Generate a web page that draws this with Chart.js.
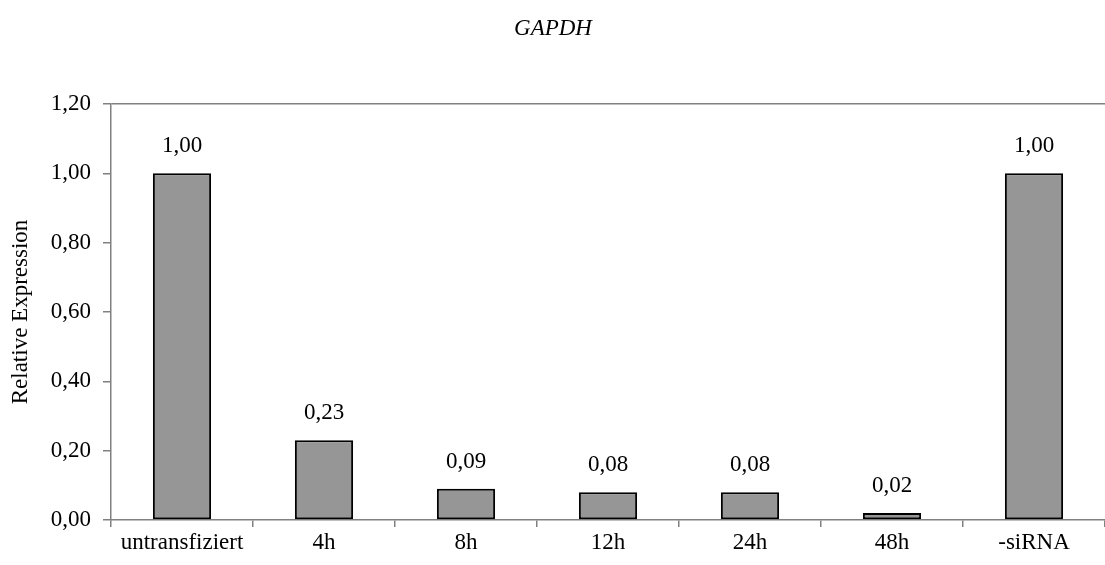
<!DOCTYPE html>
<html>
<head>
<meta charset="utf-8">
<script src="https://cdn.jsdelivr.net/npm/chart.js@4/dist/chart.umd.min.js"></script>
<style>
  html, body { margin: 0; padding: 0; background: #fff; }
  #wrap { width: 1105px; height: 565px; }
</style>
</head>
<body>
<div id="wrap"><canvas id="chart" width="1105" height="565"></canvas></div>
<script>
const categories = ["untransfiziert", "4h", "8h", "12h", "24h", "48h", "-siRNA"];
const expression = [1.00, 0.23, 0.09, 0.08, 0.08, 0.02, 1.00];
const yTicks = [0, 0.2, 0.4, 0.6, 0.8, 1.0, 1.2];

const serif = "'Liberation Serif', 'Times New Roman', serif";
const fmt = (v) => v.toFixed(2).replace(".", ",");

// value labels above the bars
const valueLabels = {
  id: "valueLabels",
  afterDatasetsDraw(chart) {
    const ctx = chart.ctx;
    const meta = chart.getDatasetMeta(0);
    ctx.save();
    ctx.font = "23px " + serif;
    ctx.fillStyle = "#000";
    ctx.textAlign = "center";
    ctx.textBaseline = "middle";
    meta.data.forEach((bar, i) => {
      ctx.fillText(fmt(expression[i]), bar.x, bar.y - 27);
    });
    ctx.restore();
  }
};

// italic title
const titlePlugin = {
  id: "titlePlugin",
  afterDraw(chart) {
    const ctx = chart.ctx;
    ctx.save();
    ctx.font = "italic 23px " + serif;
    ctx.fillStyle = "#000";
    ctx.textAlign = "center";
    ctx.textBaseline = "middle";
    ctx.fillText("GAPDH", 553, 29);
    ctx.restore();
  }
};

new Chart(document.getElementById("chart").getContext("2d"), {
  type: "bar",
  data: {
    labels: categories,
    datasets: [{
      data: expression,
      backgroundColor: "#969696",
      borderColor: "#000",
      borderWidth: 2,
      borderSkipped: false,
      categoryPercentage: 1,
      barPercentage: 0.41
    }]
  },
  options: {
    responsive: false,
    animation: false,
    layout: { padding: { top: 104, right: 0, left: 0, bottom: 0 } },
    plugins: { legend: { display: false }, tooltip: { enabled: false } },
    scales: {
      x: {
        grid: { offset: true, drawOnChartArea: false, tickLength: 7, color: "#808080", lineWidth: 1.5 },
        border: { color: "#808080", width: 1.5 },
        ticks: { font: { family: serif, size: 23 }, color: "#000", padding: 2, maxRotation: 0 },
        afterFit: (s) => { s.height = 45; }
      },
      y: {
        min: 0,
        max: 1.2,
        afterBuildTicks: (s) => { s.ticks = yTicks.map((v) => ({ value: v })); },
        grid: {
          color: (c) => (c.tick && c.tick.value === 1.2 ? "#808080" : "transparent"),
          tickColor: "#808080",
          lineWidth: 1.5,
          tickLength: 8
        },
        border: { color: "#808080", width: 1.5 },
        ticks: {
          font: { family: serif, size: 23 },
          color: "#000",
          padding: 12,
          callback: (v) => fmt(v)
        },
        title: {
          display: true,
          text: "Relative Expression",
          font: { family: serif, size: 23 },
          color: "#000",
          padding: { top: 7, bottom: 0 }
        },
        afterFit: (s) => { s.width = 111; }
      }
    }
  },
  plugins: [valueLabels, titlePlugin]
});
</script>
</body>
</html>
